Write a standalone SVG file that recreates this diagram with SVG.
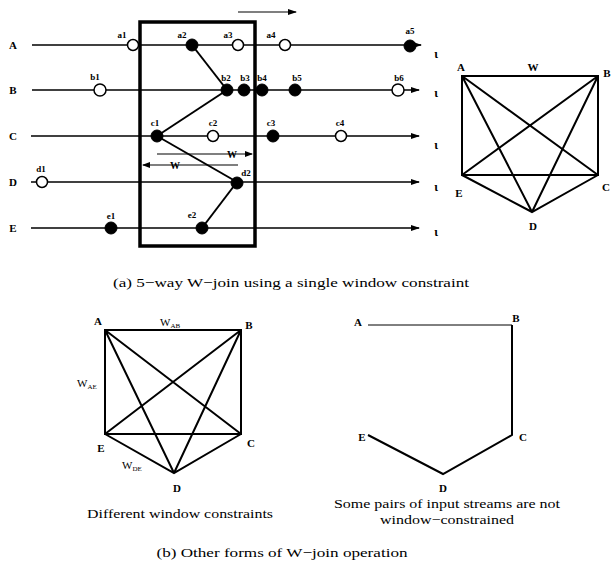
<svg xmlns="http://www.w3.org/2000/svg" width="612" height="565" viewBox="0 0 612 565">
<defs>
<marker id="arr" markerUnits="userSpaceOnUse" markerWidth="9" markerHeight="7" refX="8" refY="3.5" orient="auto">
<path d="M0,0.5 L9,3.5 L0,6.5 z" fill="#000"/>
</marker>
<marker id="arrs" markerUnits="userSpaceOnUse" markerWidth="8" markerHeight="6" refX="7" refY="3" orient="auto-start-reverse">
<path d="M0,0 L8,3 L0,6 z" fill="#000"/>
</marker>
</defs>
<style>
text{font-family:"Liberation Serif","DejaVu Serif",serif;fill:#000}
.lbl{font-size:11px;font-weight:bold;text-anchor:middle}
.sm{font-size:9px;font-weight:bold;text-anchor:middle}
.cap{font-size:13px;text-anchor:middle}
.stream{stroke:#000;stroke-width:1.6;fill:none}
.edge{stroke:#000;stroke-width:2;fill:none}
.thin{stroke:#000;stroke-width:1.2;fill:none}
.hol{fill:#fff;stroke:#000;stroke-width:1.5}
.fil{fill:#000;stroke:#000;stroke-width:1}
.tick{font-size:12px;font-weight:bold;text-anchor:middle}
</style>
<rect width="612" height="565" fill="#fff"/>

<!-- window box and direction arrow -->
<g id="window">
<rect x="140" y="22" width="115" height="224" fill="none" stroke="#000" stroke-width="3.5"/>
<line x1="238" y1="12" x2="296" y2="12" class="thin" marker-end="url(#arr)"/>
</g>

<!-- streams -->
<g id="streams">
<line class="stream" x1="32" y1="45" x2="421" y2="45" marker-end="url(#arr)"/>
<line class="stream" x1="32" y1="90" x2="419" y2="90" marker-end="url(#arr)"/>
<line class="stream" x1="31" y1="136" x2="419" y2="136" marker-end="url(#arr)"/>
<line class="stream" x1="31" y1="182" x2="419" y2="182" marker-end="url(#arr)"/>
<line class="stream" x1="31" y1="228" x2="419" y2="228" marker-end="url(#arr)"/>
</g>
<g id="stream-labels">
<text class="lbl" x="13" y="49">A</text>
<text class="lbl" x="13" y="94">B</text>
<text class="lbl" x="13" y="140">C</text>
<text class="lbl" x="13" y="186">D</text>
<text class="lbl" x="13" y="232">E</text>
<text class="tick" x="436" y="58">ι</text>
<text class="tick" x="436" y="97">ι</text>
<text class="tick" x="436" y="149">ι</text>
<text class="tick" x="436" y="191">ι</text>
<text class="tick" x="436" y="236">ι</text>
</g>

<!-- join connectors and window markers -->
<g id="connectors">
<line class="edge" x1="192" y1="45" x2="227" y2="90"/>
<line class="edge" x1="157" y1="136" x2="227" y2="90"/>
<line class="edge" x1="157" y1="136" x2="237" y2="182"/>
<line class="edge" x1="202" y1="228" x2="237" y2="182"/>
<line class="thin" x1="157" y1="154" x2="252" y2="154" marker-end="url(#arrs)"/>
<line class="thin" x1="238" y1="165" x2="143" y2="165" marker-end="url(#arrs)"/>
</g>
<g id="w-labels">
<text class="sm" x="232" y="158" style="font-size:10px">W</text>
<text class="sm" x="175" y="169" style="font-size:10px">W</text>
</g>

<!-- tuples -->
<g id="a1"><circle class="hol" cx="133" cy="45" r="5.5"/><text class="sm" x="122" y="38">a1</text></g>
<g id="a2"><circle class="fil" cx="192" cy="45" r="6"/><text class="sm" x="182" y="38">a2</text></g>
<g id="a3"><circle class="hol" cx="238" cy="45" r="5.5"/><text class="sm" x="228" y="38">a3</text></g>
<g id="a4"><circle class="hol" cx="285" cy="45" r="5.5"/><text class="sm" x="271" y="38">a4</text></g>
<g id="a5"><circle class="fil" cx="410" cy="46" r="6"/><text class="sm" x="410" y="34">a5</text></g>
<g id="b1"><circle class="hol" cx="100" cy="90" r="6"/><text class="sm" x="95" y="80">b1</text></g>
<g id="b2"><circle class="fil" cx="227" cy="90" r="6"/><text class="sm" x="226" y="81">b2</text></g>
<g id="b3"><circle class="fil" cx="244" cy="90" r="6"/><text class="sm" x="245" y="81">b3</text></g>
<g id="b4"><circle class="fil" cx="262" cy="90" r="6"/><text class="sm" x="262" y="81">b4</text></g>
<g id="b5"><circle class="fil" cx="295" cy="90" r="6"/><text class="sm" x="297" y="81">b5</text></g>
<g id="b6"><circle class="hol" cx="398" cy="90" r="6"/><text class="sm" x="399" y="81">b6</text></g>
<g id="c1"><circle class="fil" cx="157" cy="136" r="6"/><text class="sm" x="155" y="126">c1</text></g>
<g id="c2"><circle class="hol" cx="213" cy="136" r="5.5"/><text class="sm" x="213" y="126">c2</text></g>
<g id="c3"><circle class="fil" cx="273" cy="136" r="6"/><text class="sm" x="271" y="126">c3</text></g>
<g id="c4"><circle class="hol" cx="341" cy="136" r="5.5"/><text class="sm" x="340" y="126">c4</text></g>
<g id="d1"><circle class="hol" cx="42" cy="182" r="5.5"/><text class="sm" x="41" y="172">d1</text></g>
<g id="d2"><circle class="fil" cx="237" cy="183" r="6"/><text class="sm" x="246" y="176">d2</text></g>
<g id="e1"><circle class="fil" cx="111" cy="228" r="6"/><text class="sm" x="111" y="219">e1</text></g>
<g id="e2"><circle class="fil" cx="202" cy="228" r="6"/><text class="sm" x="192" y="218">e2</text></g>

<!-- top-right pentagon -->
<g id="graph-a-edges">
<path class="edge" d="M462,76 L598,76 L598,175 L462,175 Z M462,76 L598,175 M462,76 L532,212 M598,76 L462,175 M598,76 L532,212 M462,175 L532,212 L598,175"/>
</g>
<g id="graph-a-nodes">
<g id="ga-A"><text class="lbl" x="461" y="71">A</text></g>
<g id="ga-W"><text class="lbl" x="533" y="71">W</text></g>
<g id="ga-B"><text class="lbl" x="607" y="77">B</text></g>
<g id="ga-C"><text class="lbl" x="606" y="191">C</text></g>
<g id="ga-D"><text class="lbl" x="533" y="230">D</text></g>
<g id="ga-E"><text class="lbl" x="459" y="197">E</text></g>
</g>

<text class="cap" x="291" y="287" textLength="356" lengthAdjust="spacingAndGlyphs">(a) 5−way W−join using a single window constraint</text>

<!-- bottom-left pentagon -->
<g id="graph-b1-edges">
<path class="edge" d="M105,330 L241,330 L241,434 L105,434 Z M105,330 L241,434 M105,330 L174,473 M241,330 L105,434 M241,330 L174,473 M105,434 L174,473 L241,434"/>
</g>
<g id="graph-b1-nodes">
<g id="gb1-A"><text class="lbl" x="98" y="325">A</text></g>
<g id="gb1-B"><text class="lbl" x="249" y="329">B</text></g>
<g id="gb1-C"><text class="lbl" x="251" y="447">C</text></g>
<g id="gb1-D"><text class="lbl" x="177" y="492">D</text></g>
<g id="gb1-E"><text class="lbl" x="101" y="452">E</text></g>
<g id="gb1-WAB"><text x="160" y="326" style="font-size:11px">W<tspan font-size="7" dy="2">AB</tspan></text></g>
<g id="gb1-WAE"><text x="77" y="387" style="font-size:11px">W<tspan font-size="7" dy="2">AE</tspan></text></g>
<g id="gb1-WDE"><text x="122" y="469" style="font-size:11px">W<tspan font-size="7" dy="2">DE</tspan></text></g>
</g>
<text class="cap" x="180" y="518" textLength="186" lengthAdjust="spacingAndGlyphs">Different window constraints</text>

<!-- bottom-right partial graph -->
<g id="graph-b2-edges">
<line x1="368" y1="325" x2="512" y2="325" stroke="#000" stroke-width="1"/>
<path class="edge" d="M512,325 L512,435 L443,474 L368,435"/>
</g>
<g id="graph-b2-nodes">
<g id="gb2-A"><text class="lbl" x="358" y="326">A</text></g>
<g id="gb2-B"><text class="lbl" x="516" y="322">B</text></g>
<g id="gb2-C"><text class="lbl" x="523" y="441">C</text></g>
<g id="gb2-D"><text class="lbl" x="443" y="492">D</text></g>
<g id="gb2-E"><text class="lbl" x="362" y="441">E</text></g>
</g>
<text class="cap" x="447" y="508" textLength="226" lengthAdjust="spacingAndGlyphs">Some pairs of input streams are not</text>
<text class="cap" x="447" y="524" textLength="134" lengthAdjust="spacingAndGlyphs">window−constrained</text>

<text class="cap" x="282" y="557" textLength="251" lengthAdjust="spacingAndGlyphs">(b) Other forms of W−join operation</text>
</svg>
